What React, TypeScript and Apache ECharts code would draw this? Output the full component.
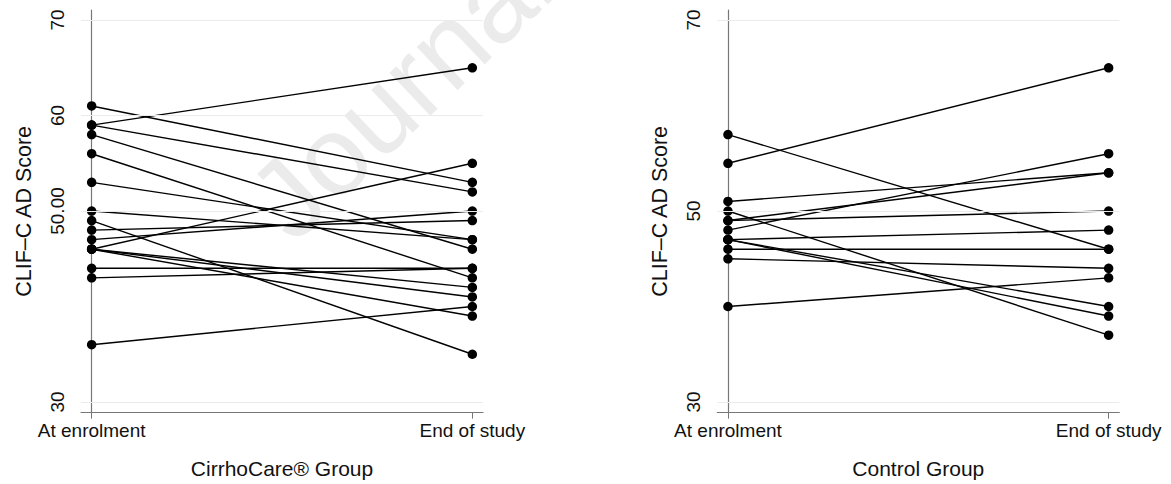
import React, { useEffect, useRef } from "react";
import * as echarts from "echarts";

const categories = ["At enrolment", "End of study"];

const cirrhoEnrol = [61, 59, 59, 58, 56, 53, 50, 49, 48, 47, 46, 46, 46, 46, 44, 43, 36];
const cirrhoEnd = [53, 65, 52, 46, 43, 47, 47, 35, 49, 50, 55, 42, 41, 39, 44, 44, 40];

const controlEnrol = [58, 55, 51, 50, 49, 49, 48, 47, 47, 47, 46, 45, 40];
const controlEnd = [46, 65, 54, 37, 54, 50, 56, 48, 40, 39, 46, 44, 43];

const leftTicks = [30, 50, 60, 70];
const rightTicks = [30, 50, 70];

const groupNames = ["CirrhoCare® Group", "Control Group"];
const yTitle = "CLIF–C AD Score";

const FONT = "'Liberation Sans', Arial, Helvetica, sans-serif";
const AXIS_COLOR = "#777777";
const TEXT_COLOR = "#111111";

export default function App() {
  const ref = useRef<HTMLDivElement>(null);

  useEffect(() => {
    if (!ref.current) return;
    const chart = echarts.init(ref.current, null, { renderer: "svg" });

    const grids = [
      { left: 81, top: 10, width: 402, height: 402.7 },
      { left: 717.3, top: 10, width: 402, height: 402.7 },
    ];

    const tickSets = [leftTicks, rightTicks];

    const xAxes = grids.map((_, i) => ({
      type: "value",
      gridIndex: i,
      min: -0.028,
      max: 1.028,
      name: groupNames[i],
      nameLocation: "middle",
      nameGap: 45,
      nameTextStyle: { fontSize: 21, color: TEXT_COLOR, fontFamily: FONT },
      axisLine: { show: true, onZero: false, lineStyle: { color: AXIS_COLOR, width: 1.2 } },
      axisTick: {
        show: true,
        length: 6,
        customValues: [0, 1],
        lineStyle: { color: AXIS_COLOR, width: 1 },
      },
      axisLabel: {
        show: true,
        margin: 8,
        fontSize: 19,
        color: TEXT_COLOR,
        fontFamily: FONT,
        customValues: [0, 1],
        formatter: (v: number) => categories[Math.round(v)] ?? "",
      },
      splitLine: { show: false },
    }));

    const yAxes = grids.map((_, i) => ({
      type: "value",
      gridIndex: i,
      min: 28.88,
      max: 71.05,
      name: yTitle,
      nameLocation: "middle",
      nameRotate: 90,
      nameGap: 46,
      nameTextStyle: { fontSize: 21.5, color: TEXT_COLOR, fontFamily: FONT },
      axisLine: { show: true, lineStyle: { color: AXIS_COLOR, width: 1.2 } },
      axisTick: {
        show: true,
        length: 7,
        customValues: tickSets[i],
        lineStyle: { color: AXIS_COLOR, width: 1 },
      },
      axisLabel: {
        show: true,
        rotate: 90,
        margin: 14,
        fontSize: 19,
        color: TEXT_COLOR,
        fontFamily: FONT,
        customValues: tickSets[i],
        formatter: (v: number) => (i === 0 && v === 50 ? "50.00" : String(v)),
      },
      splitLine: { show: false },
    }));

    const series: any[] = [];

    tickSets.forEach((ticks, i) => {
      series.push({
        type: "line",
        xAxisIndex: i,
        yAxisIndex: i,
        data: [],
        silent: true,
        z: 1,
        markLine: {
          silent: true,
          symbol: ["none", "none"],
          label: { show: false },
          lineStyle: { color: "#ebebeb", width: 1, type: "solid" },
          data: ticks.map((v) => ({ yAxis: v })),
        },
      });
    });

    const pairs: [number[], number[]][] = [
      [cirrhoEnrol, cirrhoEnd],
      [controlEnrol, controlEnd],
    ];

    pairs.forEach(([a, b], g) => {
      a.forEach((v, k) => {
        series.push({
          type: "line",
          xAxisIndex: g,
          yAxisIndex: g,
          data: [
            [0, v],
            [1, b[k]],
          ],
          symbol: "circle",
          symbolSize: 9.5,
          showSymbol: true,
          silent: true,
          z: 3,
          lineStyle: { color: "#000", width: 1.4 },
          itemStyle: { color: "#000" },
        });
      });
    });

    chart.setOption({
      animation: false,
      backgroundColor: "#ffffff",
      textStyle: { fontFamily: FONT },
      grid: grids,
      xAxis: xAxes,
      yAxis: yAxes,
      series,
      graphic: [
        {
          type: "text",
          x: 306,
          y: 258,
          rotation: 0.76,
          z: 0,
          silent: true,
          style: {
            text: "Journal Pre-proof",
            fontSize: 112,
            fontFamily: FONT,
            fill: "#ebebeb",
            textVerticalAlign: "bottom",
          },
        },
      ],
    });

    return () => chart.dispose();
  }, []);

  return (
    <div
      ref={ref}
      style={{ position: "fixed", left: 0, top: 0, width: 1171, height: 484 }}
    />
  );
}
